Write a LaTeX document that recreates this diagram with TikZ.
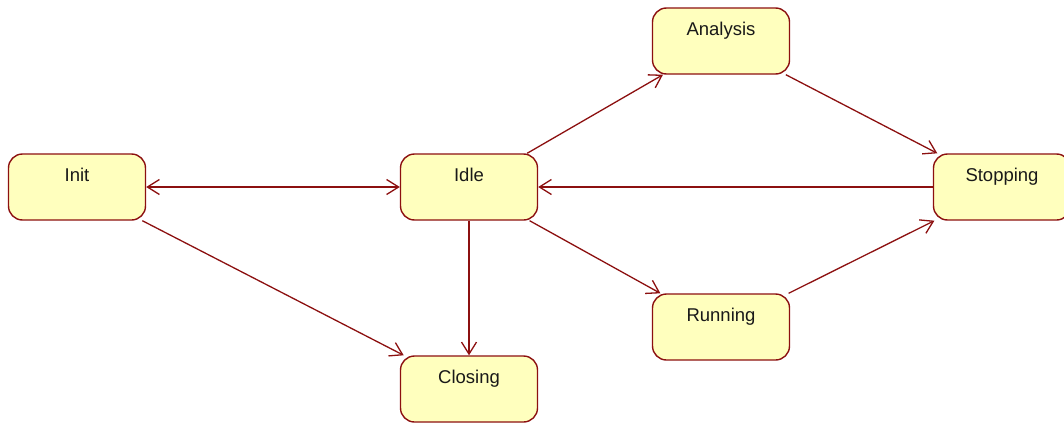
\documentclass[tikz,border=0pt]{standalone}
\usepackage{fontspec}
\setmainfont{Liberation Sans}
\usetikzlibrary{arrows.meta}
\definecolor{edge}{RGB}{140,16,16}
\definecolor{fillc}{RGB}{255,255,190}
\tikzset{
  state/.style={draw=edge, fill=fillc, line width=1.4pt, rounded corners=14pt,
    minimum width=137pt, minimum height=66pt, inner sep=0pt},
  statelabel/.style={anchor=base, yshift=-28pt, font=\fontsize{18.5pt}{21pt}\selectfont, text=black!90},
  trans/.style={draw=edge, line width=1.3pt, -{Straight Barb[length=12pt,width=15pt,line width=1.3pt]}},
  both/.style={draw=edge, line width=1.3pt, {Straight Barb[length=12pt,width=15pt,line width=1.3pt]}-{Straight Barb[length=12pt,width=15pt,line width=1.3pt]}}
}
\begin{document}
\begin{tikzpicture}[x=1pt,y=-1pt]
\useasboundingbox (0,0) rectangle (1064,423);
\clip (0,0) rectangle (1064,423);
\node[state, label={[statelabel]north:Init}] (init) at (77,187) {};
\node[state, label={[statelabel]north:Idle}] (idle) at (469,187) {};
\node[state, label={[statelabel]north:Analysis}] (analysis) at (721,41) {};
\node[state, label={[statelabel]north:Stopping}] (stopping) at (1002,187) {};
\node[state, label={[statelabel]north:Running}] (running) at (721,327) {};
\node[state, label={[statelabel]north:Closing}] (closing) at (469,389) {};
\draw[both] (init) -- (idle);
\draw[trans] (idle) -- (analysis);
\draw[trans] (analysis) -- (stopping);
\draw[trans] (stopping) -- (idle);
\draw[trans] (idle) -- (running);
\draw[trans] (running) -- (stopping);
\draw[trans] (idle) -- (closing);
\draw[trans] (init) -- (closing);
\end{tikzpicture}
\end{document}
